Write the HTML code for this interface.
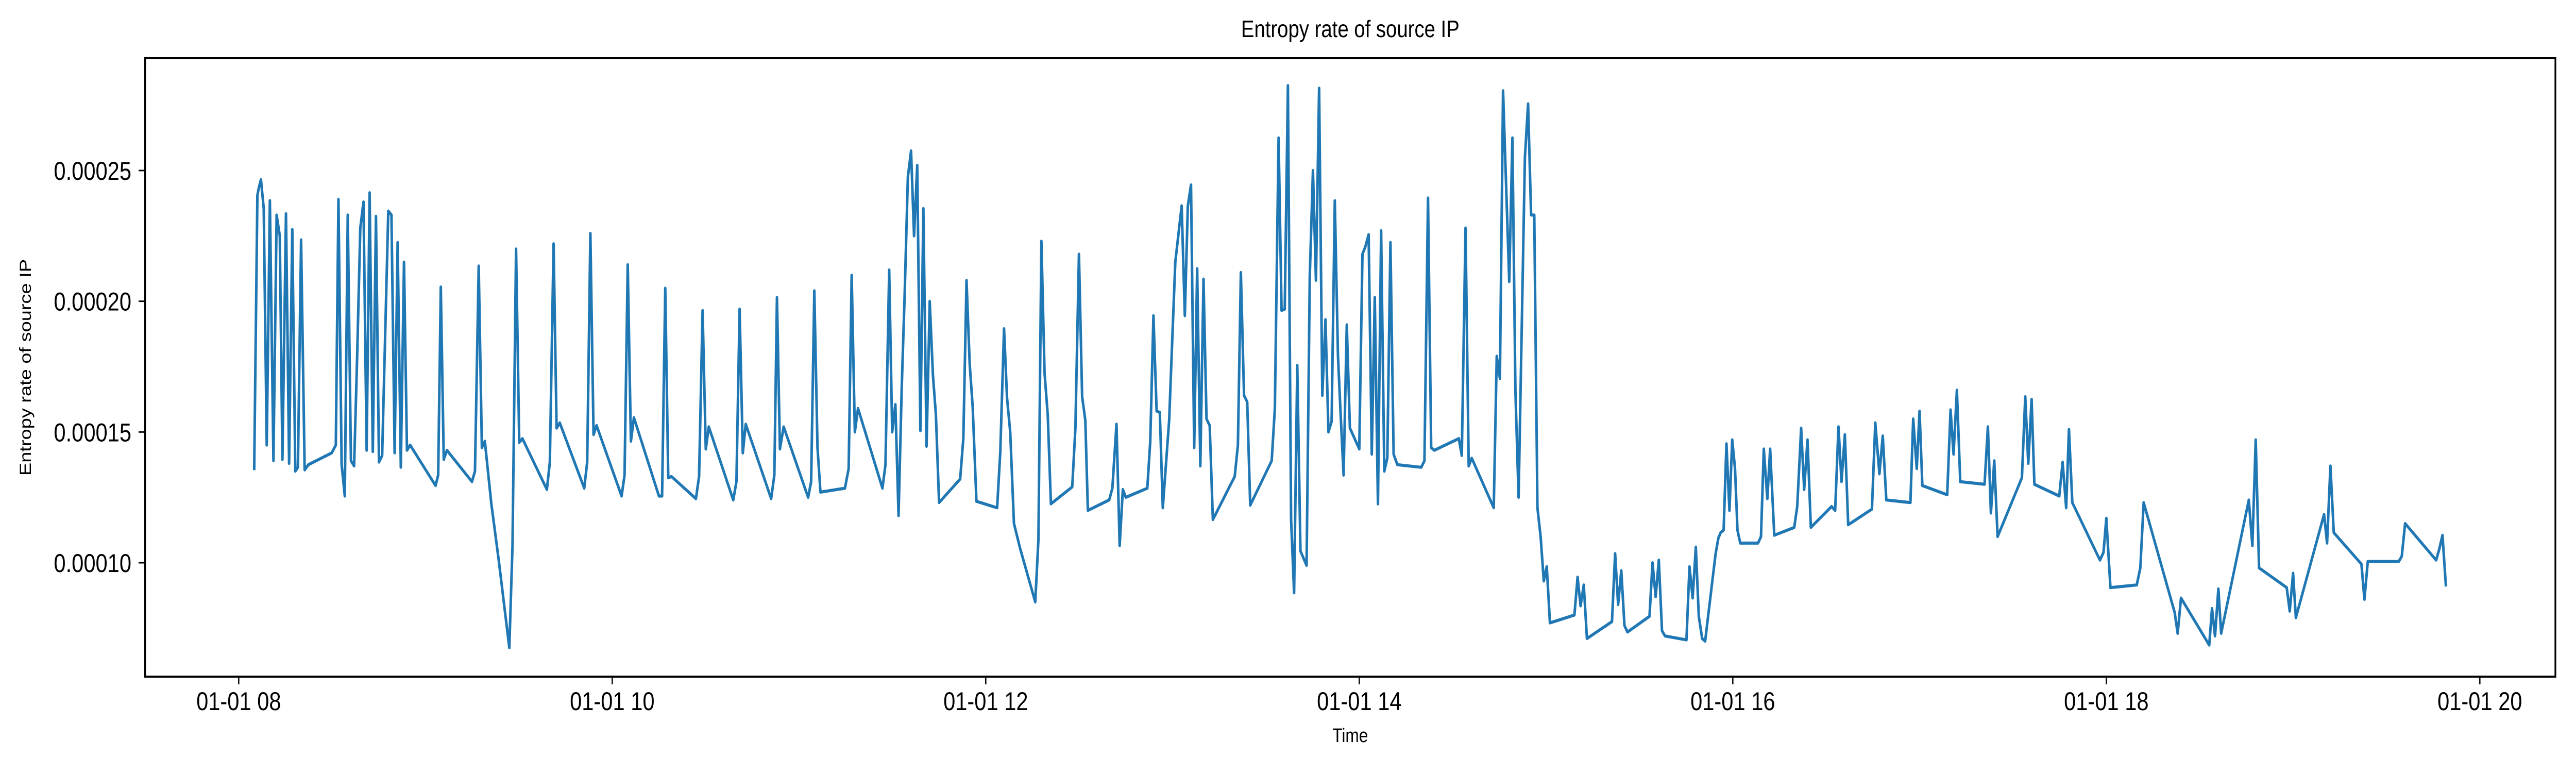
<!DOCTYPE html>
<html><head><meta charset="utf-8"><style>
html,body{margin:0;padding:0;background:#fff;overflow:hidden;width:100%;height:100%;}
svg{display:block;width:100vw;height:100vh;font-family:"Liberation Sans","DejaVu Sans",sans-serif;}
</style></head><body>
<svg id="chart" viewBox="0 0 6000 1500" preserveAspectRatio="none" xmlns="http://www.w3.org/2000/svg">
<rect x="0" y="0" width="6000" height="1500" fill="#fff"/>
<text x="3145" y="72" font-size="46" text-anchor="middle">Entropy rate of source IP</text>
<text x="3145" y="1440" font-size="38" text-anchor="middle">Time</text>
<text x="0" y="0" font-size="38" text-anchor="middle" transform="translate(72,713) rotate(-90)">Entropy rate of source IP</text>
<g id="ticks"></g>
<g id="plot"></g>
<rect x="338" y="113" width="5614" height="1200" fill="none" stroke="#000" stroke-width="4"/>
</svg>
<script>
// values in units of 1e-5
const SCALE = 1e-5;
const times = [8.083,8.100,8.108,8.119,8.134,8.150,8.167,8.186,8.203,8.220,8.234,8.253,8.270,8.287,8.303,8.317,8.334,8.353,8.373,8.498,8.520,8.534,8.551,8.568,8.584,8.601,8.618,8.634,8.651,8.668,8.685,8.701,8.718,8.735,8.751,8.768,8.801,8.818,8.835,8.851,8.868,8.885,8.901,8.918,9.054,9.068,9.082,9.098,9.115,9.249,9.265,9.285,9.302,9.318,9.352,9.394,9.449,9.466,9.485,9.502,9.519,9.650,9.666,9.686,9.702,9.719,9.850,9.866,9.883,9.900,9.916,10.050,10.066,10.083,10.100,10.116,10.250,10.267,10.284,10.300,10.317,10.448,10.465,10.484,10.501,10.517,10.648,10.665,10.682,10.699,10.715,10.851,10.868,10.882,10.898,10.918,11.049,11.065,11.082,11.099,11.115,11.246,11.266,11.282,11.299,11.316,11.447,11.463,11.483,11.499,11.516,11.533,11.550,11.566,11.583,11.600,11.616,11.633,11.650,11.666,11.683,11.700,11.717,11.733,11.750,
11.863,11.880,11.897,11.914,11.930,11.950,12.061,12.078,12.098,12.114,12.131,12.151,12.184,12.265,12.282,12.298,12.315,12.332,12.349,12.463,12.480,12.499,12.516,12.533,12.547,12.661,12.678,12.700,12.717,12.734,12.750,12.865,12.881,12.898,12.915,12.932,12.948,12.982,12.998,13.015,13.049,13.066,13.082,13.099,13.116,13.132,13.149,13.166,13.182,13.199,13.216,13.333,13.350,13.366,13.383,13.400,13.416,13.531,13.548,13.568,13.584,13.601,13.618,13.635,13.651,13.668,13.685,13.718,13.735,13.752,13.768,13.785,13.802,13.819,13.835,13.852,13.869,13.886,13.902,13.916,13.933,13.950,14.000,14.017,14.033,14.050,14.067,14.083,14.100,14.117,14.134,14.150,14.167,14.184,14.204,14.332,14.349,14.368,14.385,14.402,14.533,14.549,14.569,14.586,14.602,14.720,14.736,14.753,14.770,14.803,14.820,14.836,14.853,14.887,14.904,14.920,14.937,14.954,14.971,14.988,15.004,15.021,15.152,15.169,15.185,15.202,15.219,15.353,15.370,15.386,15.403,15.420,15.436,15.554,15.570,15.587,15.604,15.621,15.637,15.752,15.768,15.785,15.802,15.818,15.836,15.852,15.908,
15.923,15.935,15.951,15.966,15.982,15.997,16.012,16.025,16.040,16.135,16.151,16.166,16.185,16.200,16.222,16.329,16.345,16.366,16.382,16.400,16.418,16.529,16.548,16.566,16.582,16.600,16.618,16.745,16.763,16.785,16.803,16.822,16.951,16.966,16.985,17.000,17.015,17.148,17.166,17.182,17.200,17.218,17.348,17.366,17.382,17.400,17.418,17.548,17.566,17.582,17.600,17.615,17.748,17.766,17.785,17.800,17.818,17.966,17.985,18.000,18.022,18.163,18.182,18.200,18.366,18.382,18.400,18.551,18.566,18.582,18.600,18.615,18.763,18.782,18.800,18.818,18.966,18.982,19.000,19.015,19.166,19.182,19.200,19.218,19.366,19.382,19.400,19.566,19.582,19.600,19.766,19.782,19.800,19.818];
const entropy = [13.6,24.05,24.35,24.65,23.55,14.5,23.85,13.9,23.3,22.5,13.95,23.35,13.8,22.75,13.5,13.65,22.35,13.55,13.75,14.2,14.5,23.9,13.75,12.55,23.3,13.9,13.7,17.85,22.8,23.8,14.3,24.15,14.25,23.25,13.85,14.1,23.45,23.3,14.2,22.25,13.65,21.5,14.3,14.5,12.95,13.35,20.55,13.95,14.3,13.1,13.5,21.35,14.4,14.65,12.3,10.0,6.75,10.65,22.0,14.6,14.75,12.8,13.85,22.2,15.15,15.35,12.85,13.85,22.6,14.9,15.25,12.55,13.35,21.4,14.65,15.55,12.55,12.55,20.5,13.25,13.3,12.45,13.3,19.65,14.35,15.2,12.4,13.1,19.7,14.2,15.3,12.45,13.35,20.15,14.35,15.2,12.5,13.1,20.4,14.4,12.7,12.85,13.6,21.0,15.0,15.9,12.85,13.75,21.2,15.0,16.05,11.8,16.7,20.3,24.75,25.75,22.5,25.2,15.05,23.55,14.45,20.0,17.2,15.65,12.3,
13.2,14.75,20.8,17.6,15.95,12.35,12.1,14.25,18.95,16.3,15.0,11.5,10.55,8.5,10.9,22.3,17.25,15.65,12.25,12.9,15.15,21.8,16.35,15.45,12.0,12.4,12.85,15.3,10.65,12.8,12.5,12.85,14.65,19.45,15.8,15.75,12.1,15.45,18.4,21.5,23.65,19.45,23.65,24.45,14.4,21.25,13.7,20.85,15.5,15.25,11.65,13.3,14.5,21.1,16.4,16.15,12.2,13.9,15.9,26.25,19.65,19.7,28.25,11.65,8.85,17.55,10.45,9.9,20.95,25.0,20.8,28.15,16.4,19.3,15.0,15.4,23.85,17.9,15.4,13.35,19.1,15.15,14.35,21.8,22.1,22.55,14.15,20.15,12.25,22.7,13.5,14.0,22.25,14.15,13.75,13.65,13.9,23.95,14.4,14.3,14.75,14.1,22.8,13.7,14.0,12.1,17.9,17.05,28.05,20.75,26.25,16.55,12.5,25.5,27.55,23.3,23.3,12.1,11.0,9.3,9.85,7.7,8.0,9.45,8.35,9.15,7.1,7.75,10.35,8.4,9.7,7.6,7.35,7.95,10.0,8.7,10.1,7.4,7.2,7.05,9.85,8.65,10.6,7.95,7.1,7.0,10.35,
10.95,11.15,11.25,14.55,12.0,14.7,13.6,11.25,10.75,10.75,11.0,14.35,12.45,14.35,11.05,11.35,12.15,15.15,12.8,14.7,11.35,12.15,12.0,15.2,13.1,14.9,11.45,12.05,15.35,13.4,14.85,12.4,12.3,15.5,13.6,15.8,12.95,12.6,15.85,14.15,16.6,13.1,13.0,15.2,11.9,13.9,11.0,13.25,16.35,13.8,16.25,13.0,12.55,13.85,12.1,15.1,12.3,10.1,10.4,11.7,9.05,9.15,9.8,12.3,8.1,7.3,8.65,6.85,8.25,7.2,9.0,7.3,12.4,10.65,14.7,9.8,9.05,8.15,9.6,7.9,11.85,10.75,13.7,11.15,9.95,8.6,10.05,10.05,10.25,11.5,10.1,10.5,11.05,9.15];
const xTickHours = [8,10,12,14,16,18,20];
const xTickLabels = ["01-01 08","01-01 10","01-01 12","01-01 14","01-01 16","01-01 18","01-01 20"];
const yTickValues = [10,15,20,25];
const yTickLabels = ["0.00010","0.00015","0.00020","0.00025"];

const NS = "http://www.w3.org/2000/svg";
function xScale(h){ return 556 + (h - 8) * 435; }
function yScale(v){ return 1092 - (v - 10) * 50.74; }

const tg = document.getElementById('ticks');
xTickHours.forEach((h,i)=>{
  const x = xScale(h);
  const l = document.createElementNS(NS,'line');
  l.setAttribute('x1',x); l.setAttribute('x2',x); l.setAttribute('y1',1313); l.setAttribute('y2',1328);
  l.setAttribute('stroke','#000'); l.setAttribute('stroke-width','3');
  
  
  tg.appendChild(l);
  const t = document.createElementNS(NS,'text');
  t.setAttribute('x',x); t.setAttribute('y',1378); t.setAttribute('font-size','50'); t.setAttribute('text-anchor','middle');
  t.textContent = xTickLabels[i];
  
  
  tg.appendChild(t);
});
yTickValues.forEach((v,i)=>{
  const y = yScale(v);
  const l = document.createElementNS(NS,'line');
  l.setAttribute('x1',323); l.setAttribute('x2',338); l.setAttribute('y1',y); l.setAttribute('y2',y);
  l.setAttribute('stroke','#000'); l.setAttribute('stroke-width','3');
  
  
  tg.appendChild(l);
  const t = document.createElementNS(NS,'text');
  t.setAttribute('x',306); t.setAttribute('y',y+18); t.setAttribute('font-size','50'); t.setAttribute('text-anchor','end');
  t.textContent = yTickLabels[i];
  
  
  tg.appendChild(t);
});

const pts = times.map((h,i)=> xScale(h).toFixed(1) + ',' + yScale(entropy[i]).toFixed(1)).join(' ');
const pl = document.createElementNS(NS,'polyline');
pl.setAttribute('points', pts);
pl.setAttribute('fill','none'); pl.setAttribute('stroke','#1f77b4'); pl.setAttribute('stroke-width','6');
pl.setAttribute('stroke-linejoin','round'); pl.setAttribute('stroke-linecap','square');


document.getElementById('plot').appendChild(pl);
</script>
</body></html>
